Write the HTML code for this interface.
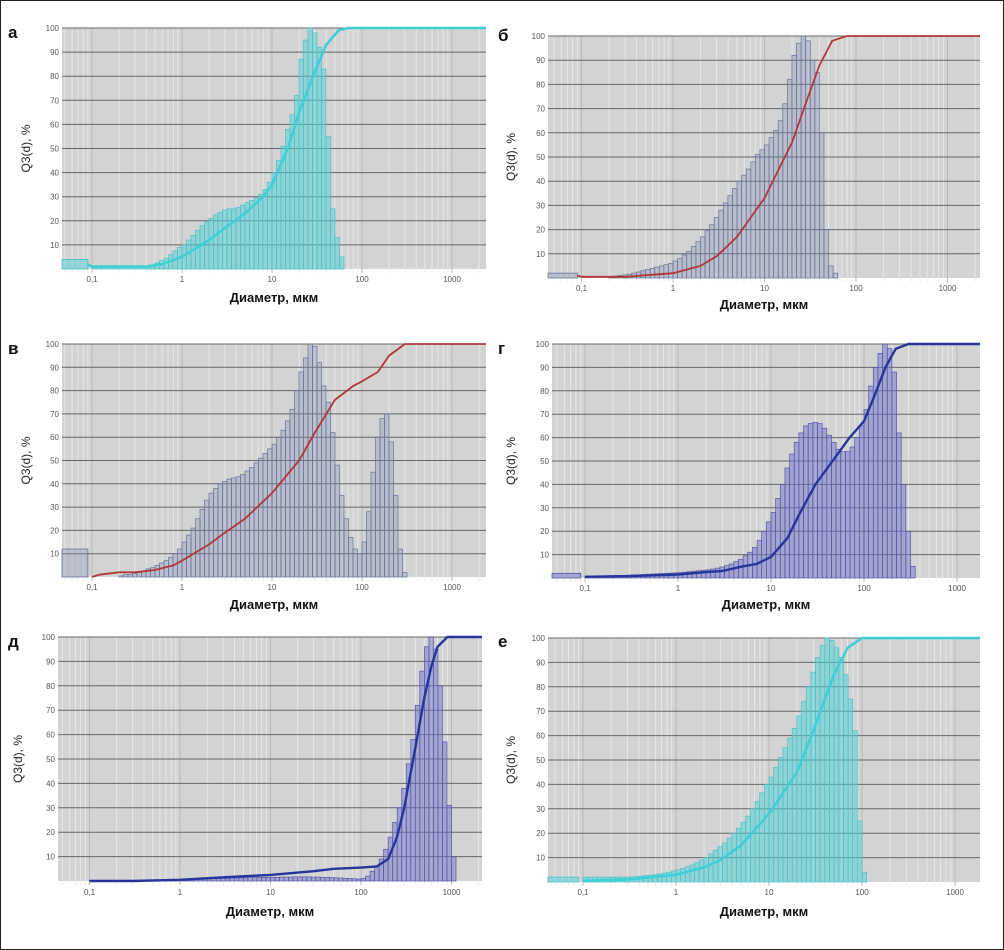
<!DOCTYPE html>
<html><head><meta charset="utf-8"><style>
html,body{margin:0;padding:0;background:#fff}
svg{display:block}
text{font-family:"Liberation Sans","DejaVu Sans",sans-serif}
</style></head><body>
<svg id="fig" width="1004" height="950" viewBox="0 0 1004 950" xmlns="http://www.w3.org/2000/svg">
<rect x="0.5" y="0.5" width="1003" height="949" fill="#fff" stroke="#222" stroke-width="1"/>
</svg>
<script>
// ---- data (bin start log10(d), 0.05 step) ----
const histA_start = -1.0;
const histA = [1,1,1,1,1,1,1,1,1,1,1,1,1,1.5,2.5,3.5,4.5,6,7.5,9,10,12,14,16,18,19.5,21,22.5,23.5,24.5,25,25,25.5,26.5,27.5,28.5,29.5,31,33,36,40,45,51,58,64,72,87,95,100,98,92,83,55,25,13,5];
const curveA_d = [0.09,0.1,0.4,0.6,1,2,3,5,8,10,15,20,30,40,55,70,2400];
const curveA_q = [2,1,1,2,5,12,17,23,30,35,50,65,82,93,99,100,100];
const blockA = 4;

const histB_start = -0.7;
const histB = [0.5,0.8,1,1.3,1.6,2,2.5,3,3.5,4,4.5,5,5.5,6,7,8,9.5,11,13,15,17,19.5,22,25,28,31,34,37,40,42.5,45,48,51,53,55,58,61,65,72,82,92,97,100,98,90,85,60,20,5,2];
const curveB_d = [0.09,0.1,0.3,1,2,3,5,10,20,30,40,55,80,2400];
const curveB_q = [1,0.5,0.5,2,5,9,17,33,56,75,88,98,100,100];
const blockB = 2;

const histC_start = -0.7;
const histC = [0.5,1,1,1.5,2,2.5,3.5,4,5,6,7,8.5,10,12,15,18,21,25,29,33,36,38,40,41,42,42.5,43,44,45.5,47,49,51,53,55,57,60,63,67,72,80,88,94,100,99,92,82,75,62,48,35,25,17,12,10,15,28,45,60,68,70,58,35,12,2];
const curveC_d = [0.1,0.12,0.2,0.3,0.5,0.8,1,2,3,5,10,20,30,50,80,100,150,200,300,2400];
const curveC_q = [0,1,2,2,3,5,7,14,19,25,36,50,62,76,82,84,88,95,100,100];
const blockC = 12;

const histD_start = -1.0;
const histD = [0.8,0.8,0.8,0.9,0.9,1,1,1,1.1,1.2,1.3,1.4,1.5,1.6,1.7,1.8,1.9,2,2.1,2.2,2.3,2.5,2.7,2.9,3.1,3.3,3.5,3.8,4.2,4.7,5.3,6,7,8,9.5,11,13,16,20,24,28,34,40,47,53,58,62,65,66,66.5,66,64,61,58,55,54,54,56,60,65,72,82,90,96,100,98,88,62,40,20,5];
const curveD_d = [0.1,0.3,1,2,3,5,7,10,15,20,30,50,70,100,130,170,220,300,2400];
const curveD_q = [0.5,0.8,1.5,2.5,3,5,6,9,17,27,40,52,60,67,78,90,98,100,100];
const blockD = 2;

const histE_start = -1.0;
const histE = [0.3,0.3,0.3,0.3,0.3,0.3,0.3,0.3,0.3,0.3,0.3,0.3,0.3,0.3,0.4,0.4,0.4,0.5,0.5,0.6,
  0.7,0.7,0.8,0.8,0.9,0.9,1,1,1,1.1,1.1,1.2,1.2,1.3,1.3,1.4,1.4,1.5,1.5,1.5,
  1.5,1.5,1.6,1.6,1.6,1.7,1.7,1.7,1.7,1.6,1.6,1.5,1.5,1.4,1.3,1.2,1.1,1,0.9,0.8,
  1,2,4,6,9,13,18,24,30,38,48,58,72,86,96,100,95,80,57,31,10];
const curveE_d = [0.1,0.3,1,3,10,30,50,100,150,200,250,300,400,500,600,700,900,2400];
const curveE_q = [0,0,0.5,1.5,2.5,4,5,5.5,6,9,18,30,55,75,88,96,100,100];
const blockE = 0;

const histF_start = -1.0;
const histF = [2,2,2,2,2,2,2,2,2,2,2,2.2,2.4,2.6,2.8,3,3.3,3.6,4,4.5,5,5.6,6.3,7,8,9,10,11.5,13,14.5,16,18,20,22,24.5,27,30,33,36.5,40,43,47,51,55,59,63,68,74,80,86,92,97,100,99,96,92,85,75,62,25,4];
const curveF_d = [0.1,0.3,1,2,3,5,10,20,30,40,50,70,100,2400];
const curveF_q = [0.5,1,3,6,9,15,28,45,62,75,85,96,100,100];
const blockF = 2;

const yTicks = [10,20,30,40,50,60,70,80,90,100];
const xTickVals = [0.1,1,10,100,1000];
const xTickLabels = ["0,1","1","10","100","1000"];

// ---- panel geometry (layout, not data) ----
const panels = [
 {id:"a",letter:"а",x0:62,x1:486,top:28,bot:269,u:182,dec:90,lab:282,tit:302,yl:30,lx:8,ly:38,hist:histA,hs:histA_start,cd:curveA_d,cq:curveA_q,block:blockA,style:"cyan"},
 {id:"b",letter:"б",x0:548,x1:980,top:36,bot:278,u:673,dec:91.5,lab:291,tit:309,yl:515,lx:498,ly:41,hist:histB,hs:histB_start,cd:curveB_d,cq:curveB_q,block:blockB,style:"red"},
 {id:"c",letter:"в",x0:62,x1:486,top:344,bot:577,u:182,dec:90,lab:590,tit:609,yl:30,lx:8,ly:354,hist:histC,hs:histC_start,cd:curveC_d,cq:curveC_q,block:blockC,style:"red"},
 {id:"d",letter:"г",x0:552,x1:980,top:344,bot:578,u:678,dec:93,lab:591,tit:609,yl:515,lx:498,ly:354,hist:histD,hs:histD_start,cd:curveD_d,cq:curveD_q,block:blockD,style:"blue"},
 {id:"e",letter:"д",x0:58,x1:482,top:637,bot:881,u:180,dec:90.5,lab:895,tit:916,yl:22,lx:8,ly:647,hist:histE,hs:histE_start,cd:curveE_d,cq:curveE_q,block:blockE,style:"blue"},
 {id:"f",letter:"е",x0:548,x1:980,top:638,bot:882,u:676,dec:93,lab:895,tit:916,yl:515,lx:498,ly:647,hist:histF,hs:histF_start,cd:curveF_d,cq:curveF_q,block:blockF,style:"cyan"}
];
const styles = {
 cyan:{fill:"rgba(80,210,215,0.5)",stroke:"#45c4cb",line:"#3fcfd8",lw:2.6},
 red:{fill:"rgba(130,140,180,0.32)",stroke:"#66749a",line:"#b3363a",lw:1.8},
 blue:{fill:"rgba(115,115,205,0.5)",stroke:"#5555aa",line:"#25359a",lw:2.4}
};
const NS="http://www.w3.org/2000/svg";
const svg=document.getElementById("fig");
function mk(tag,attrs,parent){const e=document.createElementNS(NS,tag);for(const k in attrs)e.setAttribute(k,attrs[k]);(parent||svg).appendChild(e);return e;}

panels.forEach(p=>{
  const g=mk("g",{});
  
  
  const xs=d=>p.u+Math.log10(d)*p.dec;
  const xl=l=>p.u+l*p.dec;
  const ys=q=>p.bot-q/100*(p.bot-p.top);
  const st=styles[p.style];
  const lmin=(p.x0-p.u)/p.dec, lmax=(p.x1-p.u)/p.dec;
  const bg=mk("rect",{x:p.x0,y:p.top,width:p.x1-p.x0,height:p.bot-p.top,fill:"#d3d3d3"},g);
  
  
  for(let e=-2;e<=4;e++){for(let m=1;m<10;m++){const l=e+Math.log10(m);if(l<lmin||l>lmax)continue;
    const vl=mk("line",{x1:xl(l),x2:xl(l),y1:p.top,y2:p.bot+4,stroke:m===1?"#b8b8b8":"#ececec","stroke-width":m===1?1:0.8},g);
    
    }}
  yTicks.forEach(t=>{const hl=mk("line",{x1:p.x0,x2:p.x1,y1:ys(t),y2:ys(t),stroke:"#666","stroke-width":1},g);
    
    
    const tl=mk("text",{x:p.x0-3,y:ys(t)+3,"font-size":8,"text-anchor":"end",fill:"#555"},g);tl.textContent=String(t);
    
    });
  if(p.block>0){const b=mk("rect",{x:p.x0,y:ys(p.block),width:xs(0.09)-p.x0,height:p.bot-ys(p.block),fill:st.fill,stroke:st.stroke,"stroke-width":0.8},g);
    
    }
  p.hist.forEach((v,i)=>{const l=p.hs+i*0.05;const x=xl(l),w=xl(l+0.05)-x;
    const r=mk("rect",{x:x,y:ys(v),width:w,height:p.bot-ys(v),fill:st.fill,stroke:st.stroke,"stroke-width":0.7},g);
    
    });
  let dstr="";p.cd.forEach((d,i)=>{let x=Math.min(xs(d),p.x1);dstr+=(i?"L":"M")+x.toFixed(1)+","+ys(p.cq[i]).toFixed(1);});
  const c=mk("path",{d:dstr,fill:"none",stroke:st.line,"stroke-width":st.lw,"stroke-linejoin":"round"},g);
  
  
  xTickVals.forEach((v,i)=>{const t=mk("text",{x:xs(v),y:p.lab,"font-size":8,"text-anchor":"middle",fill:"#555"},g);t.textContent=xTickLabels[i];
    
    });
  const tt=mk("text",{x:(p.x0+p.x1)/2,y:p.tit,"font-size":13,"font-weight":"bold","text-anchor":"middle",fill:"#111"},g);tt.textContent="Диаметр, мкм";
  
  
  const yc=(p.top+p.bot)/2;
  const yt=mk("text",{x:p.yl,y:yc,"font-size":12,"text-anchor":"middle",fill:"#222",transform:"rotate(-90 "+p.yl+" "+yc+")"},g);yt.textContent="Q3(d), %";
  
  
  const lt=mk("text",{x:p.lx,y:p.ly,"font-size":17,"font-weight":"bold","font-family":"Liberation Serif, serif",fill:"#111"},g);lt.textContent=p.letter;
  
  
});
</script>
</body></html>
